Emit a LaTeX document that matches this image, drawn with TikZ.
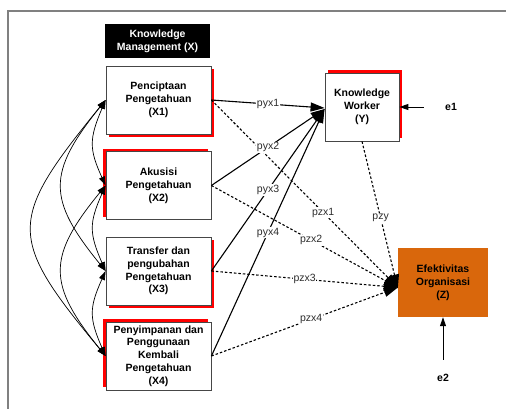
\documentclass[tikz,border=0pt]{standalone}
\usepackage{fontspec}
\setmainfont{Liberation Sans}
\usetikzlibrary{arrows.meta,shadows}
\definecolor{zorange}{RGB}{217,103,12}
\definecolor{boxline}{RGB}{70,70,70}
\definecolor{lblcol}{RGB}{45,45,45}
\definecolor{framecol}{RGB}{128,128,128}
\begin{document}
\begin{tikzpicture}[x=1pt,y=-1pt,
  txt/.style={font=\fontsize{10.5}{12.8}\selectfont\bfseries, align=center, text=black},
  xbox/.style={txt, draw=boxline, line width=0.8pt, fill=white, minimum width=105pt, minimum height=68pt, inner sep=1pt},
  shdR/.style={drop shadow={shadow xshift=3pt, shadow yshift=-3pt, fill=red, opacity=1}},
  shdL/.style={drop shadow={shadow xshift=-3pt, shadow yshift=3pt, fill=red, opacity=1}},
  shdY/.style={drop shadow={shadow xshift=3pt, shadow yshift=3pt, fill=red, opacity=1}},
  lbl/.style={font=\fontsize{10.5}{12}\selectfont, text=lblcol, fill=white, inner sep=0.8pt},
  solidarr/.style={line width=1.1pt, -{Triangle[length=14pt,width=9pt]}},
  dasharr/.style={line width=1.1pt, dash pattern=on 2.5pt off 2pt, -{Triangle[length=14pt,width=9pt]}},
  corr/.style={line width=0.7pt, {Triangle[length=9pt,width=6pt]}-{Triangle[length=9pt,width=6pt]}},
  earrow/.style={line width=0.9pt, -{Triangle[length=9pt,width=6pt]}}
]
\useasboundingbox (0,0) rectangle (506,408);
\draw[framecol, line width=1.4pt] (8,11) rectangle (540,440);

\node[txt, fill=black, text=white, minimum width=105pt, minimum height=34pt, inner sep=1pt] (KM) at (157.5,41) {Knowledge\\Management (X)};
\node[xbox, shdR] (X1) at (158.5,100) {Penciptaan\\Pengetahuan\\(X1)};
\node[xbox, shdL] (X2) at (158.5,185.5) {Akusisi\\Pengetahuan\\(X2)};
\node[xbox, shdR] (X3) at (158.5,271) {Transfer dan\\pengubahan\\Pengetahuan\\(X3)};
\node[xbox, shdL] (X4) at (158.5,356) {Penyimpanan dan\\Penggunaan\\Kembali\\Pengetahuan\\(X4)};
\node[xbox, shdY, minimum width=74pt, minimum height=68pt] (Y) at (362,107) {Knowledge\\Worker\\(Y)};
\node[txt, fill=zorange, minimum width=90pt, minimum height=69pt, inner sep=1pt] (Z) at (443,282.5) {Efektivitas\\Organisasi\\(Z)};
\node[txt] (e1) at (451,107) {e1};
\node[txt] (e2) at (443,378) {e2};

% correlations
\draw[corr] (X1.west) .. controls (89,139) and (89,149) .. (X2.west);
\draw[corr] (X2.west) .. controls (89,223) and (89,233) .. (X3.west);
\draw[corr] (X3.west) .. controls (89,308) and (89,318) .. (X4.west);
\draw[corr] (X1.west) .. controls (47,173) and (47,199) .. (X3.west);
\draw[corr] (X2.west) .. controls (47,257) and (47,284) .. (X4.west);
\draw[corr] (X1.west) .. controls (7,221) and (7,237) .. (X4.west);

% dashed paths to Z
\draw[dasharr] (X1.east) -- node[lbl, pos=0.6] {pzx1} ([yshift=-5pt]Z.west);
\draw[dasharr] (X2.east) -- node[lbl, pos=0.535] {pzx2} ([yshift=-5pt]Z.west);
\draw[dasharr] (X3.east) -- node[lbl, pos=0.5] {pzx3} ([yshift=-5pt]Z.west);
\draw[dasharr] (X4.east) -- node[lbl, pos=0.535] {pzx4} ([yshift=-5pt]Z.west);
\draw[dasharr] (Y.south) -- node[lbl, pos=0.52] {pzy} ([yshift=-6pt]Z.west);

% solid paths to Y
\draw[solidarr] (X1.east) -- node[lbl, pos=0.5] {pyx1} ([yshift=-1pt]Y.west);
\draw[solidarr] (X2.east) -- node[lbl, pos=0.5] {pyx2} ([yshift=-2pt]Y.west);
\draw[solidarr] (X3.east) -- node[lbl, pos=0.5] {pyx3} ([yshift=-2pt]Y.west);
\draw[solidarr] (X4.east) -- node[lbl, pos=0.5] {pyx4} ([yshift=-2pt]Y.west);

% error terms
\draw[earrow, shorten <=18pt] (e1) -- (Y.east);
\draw[earrow, shorten <=11pt] (e2) -- (Z.south);
\end{tikzpicture}
\end{document}
